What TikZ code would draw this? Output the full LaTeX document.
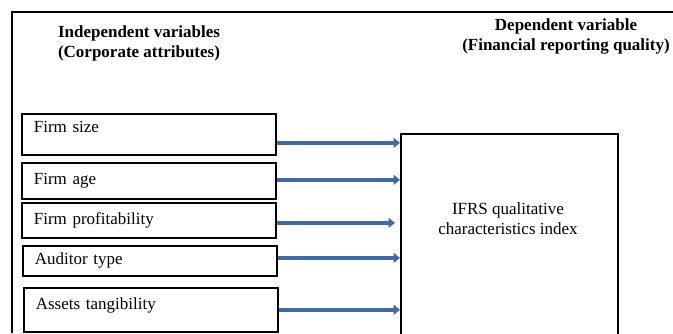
\documentclass[tikz,border=0pt]{standalone}
\usepackage{fontspec}
\setmainfont{Liberation Serif}
\usepackage{xcolor}
\usetikzlibrary{arrows.meta,positioning}

\definecolor{arrowblue}{RGB}{66,106,160}

\begin{document}
\begin{tikzpicture}[
      x = 1pt, y = -1pt,
      font = \fontsize{17}{20}\selectfont
    ]
    \tikzstyle{var box} = [draw, line width=1.7pt, anchor=north west,
      text width=230pt, inner xsep=12pt, inner ysep=0pt, align=left]
    \tikzstyle{my arrow} = [-{Triangle[length=6.5pt,width=10pt]}, line width=4.2pt, arrowblue]
    \tikzstyle{heading} = [font=\fontsize{17}{20}\selectfont\bfseries, align=center]
    \useasboundingbox (0,0) rectangle (673,333);
    % outer frame
    \draw[line width=1.2pt] (12,333) -- (12,12) -- (673,12);
    % headings
    \node[heading] (indep) at (139,43) {Independent variables\\(Corporate attributes)};
    \node[heading] (dep) at (566,36) {Dependent variable\\(Financial reporting quality)};
    % independent variables
    \node[var box, minimum height=41pt, text depth=14pt] (size) at (21,113) {Firm size};
    \node[var box, minimum height=36pt] (age) at (21,162) {Firm age};
    \node[var box, minimum height=35pt] (profit) at (21,202) {Firm profitability};
    \node[var box, minimum height=30pt] (auditor) at (22,245) {Auditor type};
    \node[var box, minimum height=44pt, text depth=13pt] (assets) at (23,287) {Assets tangibility};
    % dependent variable
    \node[draw, line width=1.7pt, anchor=north west, minimum width=217pt,
      minimum height=210pt] (ifrs) at (400,133) {};
    \node (ifrstext) at (508,219) [align=center] {IFRS qualitative\\characteristics index};
    % arrows
    \draw[my arrow] ([yshift=-8.5pt]size.east) -- ([yshift=-8.5pt]size.east -| ifrs.west);
    \draw[my arrow] ([yshift=1pt]age.east) -- ([yshift=1pt]age.east -| ifrs.west);
    \draw[my arrow] ([yshift=-2.5pt]profit.east) -- ([yshift=-2.5pt,xshift=-5pt]profit.east -| ifrs.west);
    \draw[my arrow] ([yshift=3pt]auditor.east) -- ([yshift=3pt]auditor.east -| ifrs.west);
    \draw[my arrow] (assets.east) -- (assets.east -| ifrs.west);
\end{tikzpicture}
\end{document}
